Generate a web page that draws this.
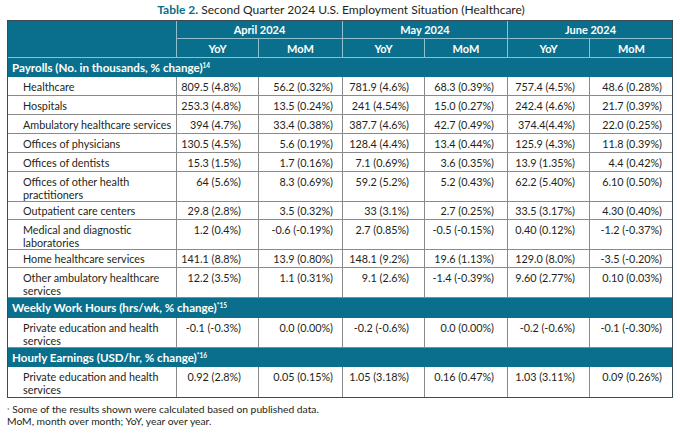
<!DOCTYPE html>
<html>
<head>
<meta charset="utf-8">
<script src="https://cdn.jsdelivr.net/npm/chart.js@4.4.1/dist/chart.umd.min.js"></script>
<style>
  html, body { margin:0; padding:0; background:#fff; }
  body { width:680px; height:433px; position:relative; overflow:hidden; font-family: Lato, "Open Sans", sans-serif; color:#231f20; }
  #title { position:absolute; left:0; width:682px; top:2px; text-align:center; font-size:12px; line-height:16px; }
  #title b { color:#0b6d88; }
  #tbl { position:absolute; left:7px; top:20px; width:666px; height:378px; }
  .c { position:absolute; box-sizing:border-box; font-size:10.8px; white-space:pre-line; overflow:hidden; }
  .hd { background:#0a6f8c; color:#fff; font-weight:bold; text-align:center; font-size:11px; }
  .sec { background:#0a6f8c; color:#fff; font-weight:bold; padding-left:5px; font-size:11.6px; }
  .sec sup { font-size:6.5px; vertical-align:top; position:relative; top:-2px; }
  .lbl { padding-left:16px; }
  .val { text-align:right; font-size:10.8px; }
  #frame { position:absolute; left:7px; top:20px; width:666px; height:378px; box-sizing:border-box; border:1px solid #3d4a50; pointer-events:none; }
  #foot { position:absolute; left:7px; top:404px; font-size:10.3px; line-height:11.5px; }
  #foot sup { font-size:6px; vertical-align:top; }
</style>
</head>
<body>
<div id="title"><b>Table 2.</b> Second Quarter 2024 U.S. Employment Situation (Healthcare)</div>
<div id="tbl"></div>
<div id="frame"></div>
<div id="foot"><sup>*</sup> Some of the results shown were calculated based on published data.<br>MoM, month over month; YoY, year over year.</div>
<script>
// ---- data ----
const months = ["April 2024", "May 2024", "June 2024"];
const measures = ["YoY", "MoM"];
const sections = [
  {title: "Payrolls (No. in thousands, % change)", note: "14", start: 0, count: 10},
  {title: "Weekly Work Hours (hrs/wk, % change)", note: "*15", start: 10, count: 1},
  {title: "Hourly Earnings (USD/hr, % change)", note: "*16", start: 11, count: 1}
];
const categories = [
  "Healthcare",
  "Hospitals",
  "Ambulatory healthcare services",
  "Offices of physicians",
  "Offices of dentists",
  "Offices of other health\npractitioners",
  "Outpatient care centers",
  "Medical and diagnostic\nlaboratories",
  "Home healthcare services",
  "Other ambulatory healthcare\nservices",
  "Private education and health\nservices",
  "Private education and health\nservices"
];
const aprilYoY = ["809.5 (4.8%)","253.3 (4.8%)","394 (4.7%)","130.5 (4.5%)","15.3 (1.5%)","64 (5.6%)","29.8 (2.8%)","1.2 (0.4%)","141.1 (8.8%)","12.2 (3.5%)","-0.1 (-0.3%)","0.92 (2.8%)"];
const aprilMoM = ["56.2 (0.32%)","13.5 (0.24%)","33.4 (0.38%)","5.6 (0.19%)","1.7 (0.16%)","8.3 (0.69%)","3.5 (0.32%)","-0.6 (-0.19%)","13.9 (0.80%)","1.1 (0.31%)","0.0 (0.00%)","0.05 (0.15%)"];
const mayYoY = ["781.9 (4.6%)","241 (4.54%)","387.7 (4.6%)","128.4 (4.4%)","7.1 (0.69%)","59.2 (5.2%)","33 (3.1%)","2.7 (0.85%)","148.1 (9.2%)","9.1 (2.6%)","-0.2 (-0.6%)","1.05 (3.18%)"];
const mayMoM = ["68.3 (0.39%)","15.0 (0.27%)","42.7 (0.49%)","13.4 (0.44%)","3.6 (0.35%)","5.2 (0.43%)","2.7 (0.25%)","-0.5 (-0.15%)","19.6 (1.13%)","-1.4 (-0.39%)","0.0 (0.00%)","0.16 (0.47%)"];
const juneYoY = ["757.4 (4.5%)","242.4 (4.6%)","374.4(4.4%)","125.9 (4.3%)","13.9 (1.35%)","62.2 (5.40%)","33.5 (3.17%)","0.40 (0.12%)","129.0 (8.0%)","9.60 (2.77%)","-0.2 (-0.6%)","1.03 (3.11%)"];
const juneMoM = ["48.6 (0.28%)","21.7 (0.39%)","22.0 (0.25%)","11.8 (0.39%)","4.4 (0.42%)","6.10 (0.50%)","4.30 (0.40%)","-1.2 (-0.37%)","-3.5 (-0.20%)","0.10 (0.03%)","-0.1 (-0.30%)","0.09 (0.26%)"];

// ---- layout ----
const cols = [0, 170, 252, 336, 418, 501, 583, 666];
const valPad = [17, 9, 15, 13, 14, 11];
const valueCols = [aprilYoY, aprilMoM, mayYoY, mayMoM, juneYoY, juneMoM];
const tbl = document.getElementById('tbl');
function cell(x, y, w, h, cls, html, style) {
  const d = document.createElement('div');
  d.className = 'c ' + cls;
  d.style.left = x + 'px'; d.style.top = y + 'px';
  d.style.width = w + 'px'; d.style.height = h + 'px';
  if (style) Object.assign(d.style, style);
  d.innerHTML = html;
  tbl.appendChild(d);
  return d;
}
const esc = s => s.replace(/&/g,'&amp;').replace(/</g,'&lt;');
const lightLine = '1px solid #8fc0cf';
const grayLine = '1px solid #8a8a8a';
// header rows
cell(0, 0, cols[1], 38, 'hd', '', {borderRight: lightLine, borderBottom: lightLine});
months.forEach((m, i) => {
  const x0 = cols[1 + i*2], x1 = cols[3 + i*2];
  cell(x0, 0, x1 - x0, 19, 'hd', esc(m), {lineHeight: '19px', borderRight: i < 2 ? lightLine : 'none', borderBottom: lightLine});
  measures.forEach((ms, j) => {
    const a = cols[1 + i*2 + j], b = cols[2 + i*2 + j];
    cell(a, 19, b - a, 19, 'hd', ms, {lineHeight: '19px', borderRight: (i*2 + j) < 5 ? lightLine : 'none', borderBottom: lightLine});
  });
});
// body rows
const sectionH = [19, 20, 19];
const singleH = [19, 19, 19, 19, 19, 0, 18, 0, 18, 0];
let y = 38;
sections.forEach((s, si) => {
  cell(0, y, 666, sectionH[si], 'sec', esc(s.title) + '<sup>' + s.note + '</sup>', {lineHeight: sectionH[si] + 'px'});
  y += sectionH[si];
  for (let r = s.start; r < s.start + s.count; r++) {
    const dbl = categories[r].indexOf('\n') >= 0;
    const h = dbl ? (r === 11 ? 31 : 30) : (singleH[r] || 19);
    const st = dbl ? {lineHeight: '13px', paddingTop: '3px'} : {lineHeight: h + 'px'};
    cell(0, y, cols[1], h, 'lbl', esc(categories[r]), Object.assign({borderRight: grayLine, borderBottom: grayLine}, st));
    valueCols.forEach((arr, k) => {
      cell(cols[k+1], y, cols[k+2] - cols[k+1], h, 'val', esc(arr[r]),
        Object.assign({paddingRight: valPad[k] + 'px', borderRight: k < 5 ? grayLine : 'none', borderBottom: grayLine}, st));
    });
    y += h;
  }
});
</script>
</body>
</html>
